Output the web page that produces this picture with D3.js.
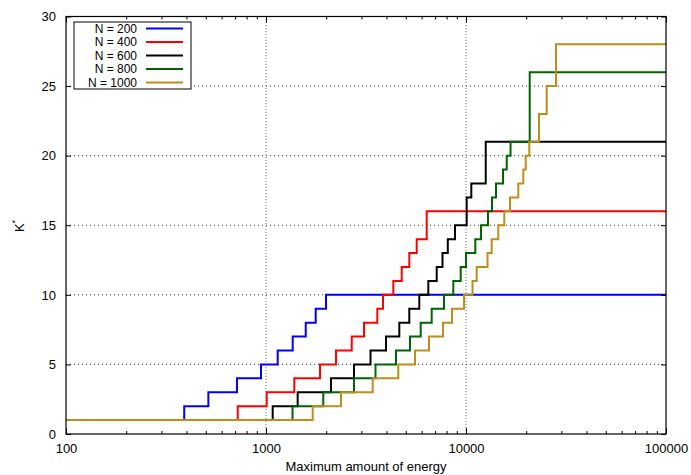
<!DOCTYPE html>
<html>
<head>
<meta charset="utf-8">
<script src="https://cdn.jsdelivr.net/npm/d3@7"></script>
<style>
  html, body { margin: 0; padding: 0; background: #fff; }
  text { font-family: "Liberation Sans", Arial, Helvetica, sans-serif; }
</style>
</head>
<body>
<svg id="chart" width="691" height="475"></svg>
<script>
// ---- data (energy at which K* steps up, and the K* value from there on) ----
const seriesNames = ["N = 200", "N = 400", "N = 600", "N = 800", "N = 1000"];
const seriesColors = ["#0000ff", "#ff0000", "#000000", "#006400", "#c08c1a"];

const n200Energy = [100, 390, 515, 716, 944, 1144, 1360, 1580, 1772, 1995];
const n200K      = [1, 2, 3, 4, 5, 6, 7, 8, 9, 10];

const n400Energy = [100, 722, 1008, 1385, 1862, 2239, 2683, 3090, 3602, 3846, 4330, 4770, 5206, 5669, 6361];
const n400K      = [1, 2, 3, 4, 5, 6, 7, 8, 9, 10, 11, 12, 13, 14, 16];

const n600Energy = [100, 1080, 1440, 2113, 2754, 3331, 3981, 4640, 5206, 5841, 6479, 7137, 7630, 8110, 8810, 10080, 10630, 12550];
const n600K      = [1, 2, 3, 4, 5, 6, 7, 8, 9, 10, 11, 12, 13, 14, 15, 17, 18, 21];

const n800Energy = [100, 1357, 1934, 2754, 3528, 4467, 5248, 5936, 6738, 7762, 8640, 9408, 10000, 11130, 11890, 12880, 13490, 14130, 15310, 15980, 16700, 20820];
const n800K      = [1, 2, 3, 4, 5, 6, 7, 8, 9, 10, 11, 12, 13, 14, 15, 16, 17, 18, 19, 20, 21, 26];

const n1000Energy = [100, 1712, 2371, 3416, 4586, 5559, 6531, 7674, 8511, 9772, 10780, 11310, 12810, 13440, 14500, 15540, 16600, 18260, 19340, 19880, 20730, 23170, 25320, 28180];
const n1000K      = [1, 2, 3, 4, 5, 6, 7, 8, 9, 10, 11, 12, 13, 14, 15, 16, 17, 18, 19, 20, 21, 23, 25, 28];

const xTicks = [100, 1000, 10000, 100000];
const yTicks = [0, 5, 10, 15, 20, 25, 30];
const xDomain = [100, 100000];
const yDomain = [0, 30];

// ---- layout ----
const svg = d3.select("#chart");
const mL = 66, mR = 666, mT = 16.5, mB = 434;

const x = d3.scaleLog().domain(xDomain).range([mL, mR]);
const y = d3.scaleLinear().domain(yDomain).range([mB, mT]);

// grid
const grid = svg.append("g");
xTicks.slice(1, -1).forEach(t => {
  grid.append("line")
    .attr("x1", x(t)).attr("x2", x(t)).attr("y1", mB).attr("y2", mT)
    .attr("stroke", "#777").attr("stroke-width", 1).attr("stroke-dasharray", "1,2");
});
yTicks.slice(1, -1).forEach(t => {
  grid.append("line")
    .attr("x1", mL).attr("x2", mR).attr("y1", y(t)).attr("y2", y(t))
    .attr("stroke", "#333").attr("stroke-width", 1).attr("stroke-dasharray", "1,3");
});

// clip
svg.append("clipPath").attr("id", "clip").append("rect")
  .attr("x", mL).attr("y", mT).attr("width", mR - mL).attr("height", mB - mT);

// series
const allEnergy = [n200Energy, n400Energy, n600Energy, n800Energy, n1000Energy];
const allK = [n200K, n400K, n600K, n800K, n1000K];
const line = d3.line().x(d => x(d[0])).y(d => y(d[1])).curve(d3.curveStepAfter);
const plot = svg.append("g").attr("clip-path", "url(#clip)");
allEnergy.forEach((es, i) => {
  const ks = allK[i];
  const pts = es.map((e, j) => [e, ks[j]]);
  pts.push([xDomain[1], ks[ks.length - 1]]);
  plot.append("path").datum(pts)
    .attr("d", line)
    .attr("fill", "none")
    .attr("stroke", seriesColors[i])
    .attr("stroke-width", 2)
    .attr("stroke-linejoin", "miter");
});

// axes (ticks inward, mirrored)
const minor = [];
for (let dec = 100; dec < 100000; dec *= 10) for (let m = 2; m <= 9; m++) minor.push(dec * m);

const axB = d3.axisBottom(x).tickValues(xTicks).tickFormat(d3.format("d")).tickSizeInner(-6).tickSizeOuter(0).tickPadding(10);
svg.append("g").attr("transform", `translate(0,${mB})`).call(axB);
const axBm = d3.axisBottom(x).tickValues(minor).tickFormat("").tickSizeInner(-3).tickSizeOuter(0);
svg.append("g").attr("transform", `translate(0,${mB})`).call(axBm);
const axT = d3.axisTop(x).tickValues(xTicks).tickFormat("").tickSizeInner(-6).tickSizeOuter(0);
svg.append("g").attr("transform", `translate(0,${mT})`).call(axT);
const axTm = d3.axisTop(x).tickValues(minor).tickFormat("").tickSizeInner(-3).tickSizeOuter(0);
svg.append("g").attr("transform", `translate(0,${mT})`).call(axTm);

const axL = d3.axisLeft(y).tickValues(yTicks).tickFormat(d3.format("d")).tickSizeInner(-5).tickSizeOuter(0).tickPadding(10);
svg.append("g").attr("transform", `translate(${mL},0)`).call(axL);
const axR = d3.axisRight(y).tickValues(yTicks).tickFormat("").tickSizeInner(-5).tickSizeOuter(0);
svg.append("g").attr("transform", `translate(${mR},0)`).call(axR);

svg.selectAll(".domain").remove();
svg.selectAll(".tick line").attr("stroke", "#000");
svg.selectAll(".tick text").attr("font-size", 13).attr("fill", "#000")
  .attr("font-family", "'Liberation Sans', Arial, sans-serif");

// border
svg.append("rect").attr("x", mL).attr("y", mT).attr("width", mR - mL).attr("height", mB - mT)
  .attr("fill", "none").attr("stroke", "#000").attr("stroke-width", 1.2);

// axis titles
svg.append("text").attr("x", (mL + mR) / 2).attr("y", 471)
  .attr("text-anchor", "middle").attr("font-size", 13).attr("fill", "#000")
  .text("Maximum amount of energy");
const yt = svg.append("text").attr("transform", "translate(24,226) rotate(-90)")
  .attr("text-anchor", "middle").attr("font-size", 13).attr("fill", "#000");
yt.append("tspan").text("K");
yt.append("tspan").attr("dy", -6).attr("font-size", 9).text("*");

// legend
const lg = svg.append("g");
lg.append("rect").attr("x", 74).attr("y", 22).attr("width", 117).attr("height", 67)
  .attr("fill", "#fff").attr("stroke", "#000").attr("stroke-width", 1);
seriesNames.forEach((name, i) => {
  const cy = 28.5 + i * 13.5;
  lg.append("text").attr("x", 137).attr("y", cy).attr("dy", "0.36em")
    .attr("text-anchor", "end").attr("font-size", 12).attr("fill", "#000").text(name);
  lg.append("line").attr("x1", 146).attr("x2", 183).attr("y1", cy).attr("y2", cy)
    .attr("stroke", seriesColors[i]).attr("stroke-width", 2);
});
</script>
</body>
</html>
